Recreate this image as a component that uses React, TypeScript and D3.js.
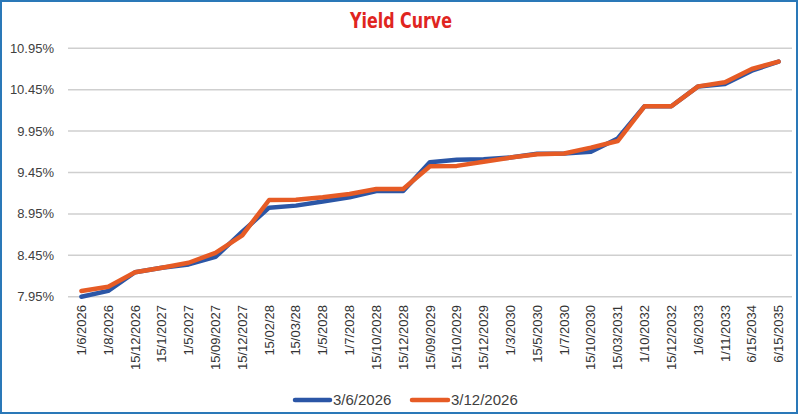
import React from "react";
import * as d3 from "d3";

const categories = [
  "1/6/2026", "1/8/2026", "15/12/2026", "15/1/2027", "1/5/2027", "15/09/2027",
  "15/12/2027", "15/02/28", "15/03/28", "1/5/2028", "1/7/2028", "15/10/2028",
  "15/12/2028", "15/09/2029", "15/10/2029", "15/12/2029", "1/3/2030", "15/5/2030",
  "1/7/2030", "15/10/2030", "15/03/2031", "1/10/2032", "15/12/2032", "1/6/2033",
  "1/11/2033", "6/15/2034", "6/15/2035",
];

const seriesJune = [
  7.95, 8.02, 8.245, 8.3, 8.34, 8.43, 8.735, 9.025, 9.05, 9.1, 9.15, 9.226,
  9.226, 9.575, 9.605, 9.61, 9.63, 9.677, 9.68, 9.7, 9.86, 10.25, 10.25, 10.49,
  10.52, 10.68, 10.79,
];

const seriesDec = [
  8.02, 8.07, 8.245, 8.3, 8.36, 8.48, 8.69, 9.118, 9.12, 9.15, 9.19, 9.25,
  9.25, 9.525, 9.53, 9.58, 9.63, 9.67, 9.68, 9.75, 9.83, 10.25, 10.25, 10.49,
  10.54, 10.7, 10.79,
];

const yTicks = [7.95, 8.45, 8.95, 9.45, 9.95, 10.45, 10.95];
const seriesNames = ["3/6/2026", "3/12/2026"];
const seriesColors = ["#2B56A6", "#E65B25"];

const W = 800;
const H = 415;
const plotLeft = 68;
const plotRight = 792;
const plotTop = 48.3;
const plotBottom = 296.7;

export default function App() {
  const x = d3
    .scaleBand<string>()
    .domain(categories)
    .range([plotLeft, plotRight])
    .paddingInner(0)
    .paddingOuter(0);
  const y = d3.scaleLinear().domain([7.95, 10.95]).range([plotBottom, plotTop]);
  const cx = (c: string) => (x(c) as number) + x.bandwidth() / 2;

  const line = d3
    .line<number>()
    .x((_, i) => cx(categories[i]))
    .y((d) => y(d));

  const allSeries = [seriesJune, seriesDec];

  return (
    <svg
      width={W}
      height={H}
      style={{ position: "absolute", left: 0, top: 0, background: "#fff" }}
      fontFamily="'Liberation Sans', Arial, sans-serif"
    >
      <rect x={1} y={1} width={W - 4} height={H - 3} fill="#fff" stroke="#2A78B8" strokeWidth={2} />
      <text
        x={401}
        y={28}
        textAnchor="middle"
        fontFamily="'Liberation Sans Narrow', 'DejaVu Sans Condensed', sans-serif"
        fontWeight="bold"
        fontSize={22}
        textLength={102}
        lengthAdjust="spacingAndGlyphs"
        fill="#E0251F"
      >
        Yield Curve
      </text>

      {yTicks.map((t) => (
        <g key={t}>
          <line x1={plotLeft} x2={plotRight} y1={y(t)} y2={y(t)} stroke="#CFCFCF" strokeWidth={1.5} />
          <text x={54} y={y(t)} dy="0.35em" textAnchor="end" fontSize={13} fill="#404040">
            {t.toFixed(2)}%
          </text>
        </g>
      ))}

      {categories.map((c) => (
        <text
          key={c}
          transform={`translate(${cx(c)},305) rotate(-90)`}
          dy="0.35em"
          textAnchor="end"
          fontSize={13}
          fill="#333"
        >
          {c}
        </text>
      ))}

      {allSeries.map((s, k) => (
        <path
          key={k}
          d={line(s) || ""}
          fill="none"
          stroke={seriesColors[k]}
          strokeWidth={4.5}
          strokeLinejoin="round"
          strokeLinecap="round"
        />
      ))}

      <g>
        <line x1={295} x2={330} y1={400} y2={400} stroke={seriesColors[0]} strokeWidth={4.5} strokeLinecap="round" />
        <text x={333} y={400} dy="0.35em" fontSize={15} fill="#404040">
          {seriesNames[0]}
        </text>
        <line x1={412} x2={448} y1={400} y2={400} stroke={seriesColors[1]} strokeWidth={4.5} strokeLinecap="round" />
        <text x={451} y={400} dy="0.35em" fontSize={15} fill="#404040">
          {seriesNames[1]}
        </text>
      </g>
    </svg>
  );
}
